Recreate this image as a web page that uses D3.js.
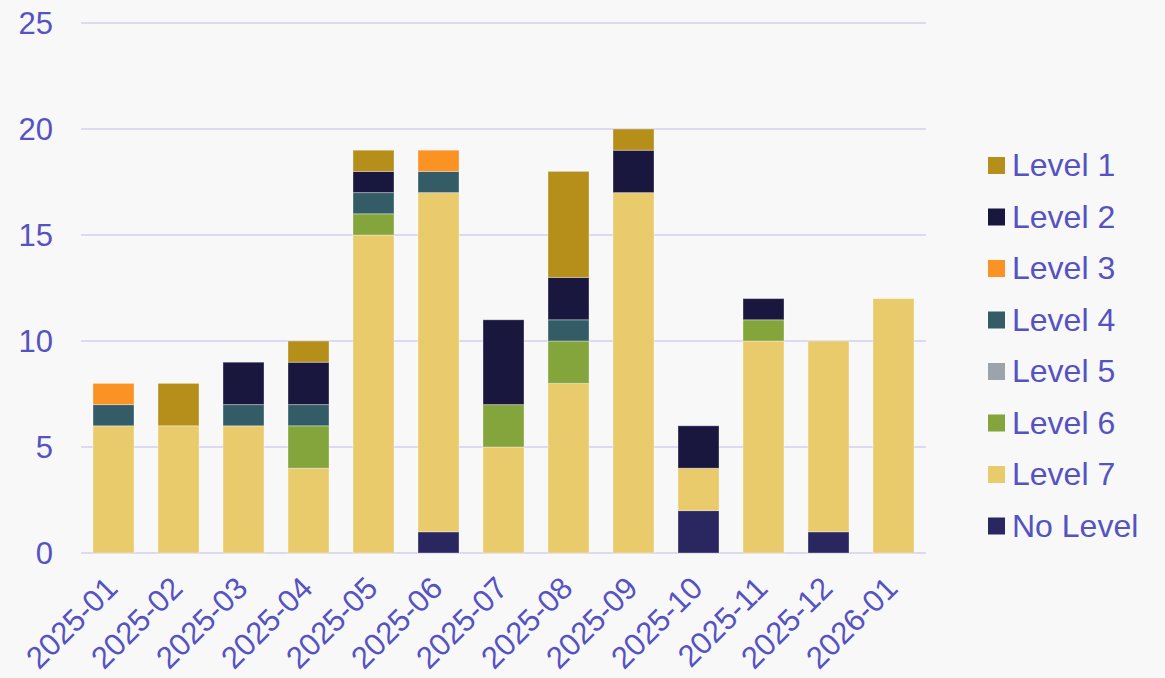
<!DOCTYPE html>
<html><head><meta charset="utf-8">
<script src="https://cdn.jsdelivr.net/npm/d3@7"></script>
<style>
html,body{margin:0;padding:0;background:#f8f8f8;}
svg{display:block;}
text{font-family:"Liberation Sans",Arial,sans-serif;fill:#5552c2;}
</style></head>
<body>
<svg id="chart" width="1165" height="678"></svg>
<script>
const months = ["2025-01","2025-02","2025-03","2025-04","2025-05","2025-06","2025-07","2025-08","2025-09","2025-10","2025-11","2025-12","2026-01"];
const seriesNames = ["No Level","Level 7","Level 6","Level 5","Level 4","Level 3","Level 2","Level 1"];
const noLevel = [0,0,0,0,0,1,0,0,0,2,0,1,0];
const level7  = [6,6,6,4,15,16,5,8,17,2,10,9,12];
const level6  = [0,0,0,2,1,0,2,2,0,0,1,0,0];
const level5  = [0,0,0,0,0,0,0,0,0,0,0,0,0];
const level4  = [1,0,1,1,1,1,0,1,0,0,0,0,0];
const level3  = [1,0,0,0,0,1,0,0,0,0,0,0,0];
const level2  = [0,0,2,2,1,0,4,2,2,2,1,0,0];
const level1  = [0,2,0,1,1,0,0,5,1,0,0,0,0];
const yTicks = [0,5,10,15,20,25];
const colors = {"Level 1":"#b58f1a","Level 2":"#19173d","Level 3":"#fb9224","Level 4":"#335c67","Level 5":"#9ca3ab","Level 6":"#84a43c","Level 7":"#e9cb6b","No Level":"#2a2660"};
const legendOrder = ["Level 1","Level 2","Level 3","Level 4","Level 5","Level 6","Level 7","No Level"];

const valuesBySeries = {"No Level":noLevel,"Level 7":level7,"Level 6":level6,"Level 5":level5,"Level 4":level4,"Level 3":level3,"Level 2":level2,"Level 1":level1};
const table = months.map((m,i)=>{const o={month:m}; seriesNames.forEach(s=>o[s]=valuesBySeries[s][i]); return o;});
const stack = d3.stack().keys(seriesNames)(table);

const svg = d3.select("#chart");
const x = d3.scaleBand().domain(months).range([81,926]).paddingInner(24/65).paddingOuter(12/65);
const y = d3.scaleLinear().domain([0,25]).range([553,23]);

// grid
svg.append("g").selectAll("line").data(yTicks).join("line")
  .attr("x1",81).attr("x2",926).attr("y1",d=>y(d)).attr("y2",d=>y(d))
  .attr("stroke","#dddaf0").attr("stroke-width",2);

// y labels
svg.append("g").selectAll("text").data(yTicks).join("text")
  .attr("x",53).attr("y",d=>y(d)).attr("dy","0.35em").attr("text-anchor","end")
  .style("font-size","31px").text(d=>d);

// bars
svg.append("g").selectAll("g").data(stack).join("g")
  .attr("fill",d=>colors[d.key])
  .selectAll("rect").data(d=>d.filter(p=>p[1]-p[0]>0)).join("rect")
  .attr("x",d=>x(d.data.month)).attr("width",x.bandwidth())
  .attr("y",d=>y(d[1])).attr("height",d=>y(d[0])-y(d[1]))
  .attr("stroke","rgba(255,255,255,0.35)").attr("stroke-width",1);

// x labels
svg.append("g").selectAll("text").data(months).join("text")
  .attr("transform",d=>`translate(${x(d)+x.bandwidth()/2+6},${590}) rotate(-45)`)
  .attr("text-anchor","end").style("font-size","31px").text(d=>d);

// legend
const lg = svg.append("g").selectAll("g").data(legendOrder).join("g")
  .attr("transform",(d,i)=>`translate(988,${165+i*51.5})`);
lg.append("rect").attr("x",0).attr("y",-8).attr("width",17).attr("height",17).attr("fill",d=>colors[d]);
lg.append("text").attr("x",24).attr("y",0).attr("dy","0.35em").style("font-size","32px").text(d=>d);
</script>
</body></html>
